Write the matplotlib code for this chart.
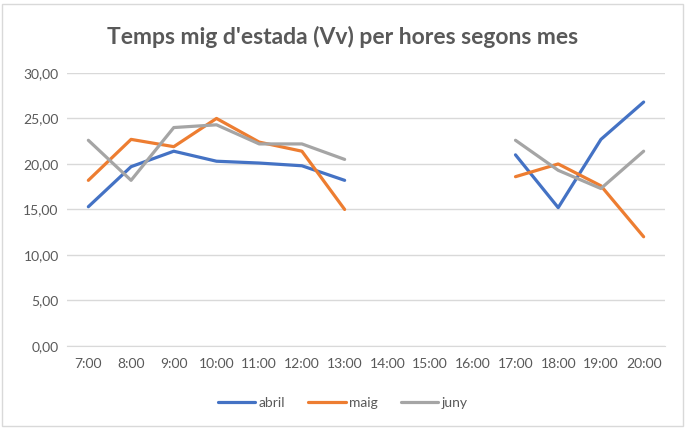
import matplotlib
matplotlib.use('Agg')
import matplotlib.pyplot as plt
import numpy as np
from matplotlib.patches import Rectangle

plt.rcParams['font.family'] = ['Lato', 'DejaVu Sans']

hores = ['7:00', '8:00', '9:00', '10:00', '11:00', '12:00', '13:00',
         '14:00', '15:00', '16:00', '17:00', '18:00', '19:00', '20:00']
nan = np.nan
abril = [15.3, 19.7, 21.4, 20.3, 20.1, 19.8, 18.2, nan, nan, nan, 21.0, 15.2, 22.7, 26.8]
maig = [18.2, 22.7, 21.9, 25.0, 22.4, 21.4, 15.0, nan, nan, nan, 18.6, 20.0, 17.6, 12.0]
juny = [22.6, 18.2, 24.0, 24.3, 22.2, 22.2, 20.5, nan, nan, nan, 22.6, 19.3, 17.3, 21.4]

fig = plt.figure(figsize=(6.85, 4.28), dpi=100)
ax = fig.add_axes([0.0978, 0.1916, 0.873, 0.638])

x = np.arange(len(hores))
ax.plot(x, abril, c='#4472C4', lw=2.3, label='abril', solid_capstyle='round')
ax.plot(x, maig, c='#ED7D31', lw=2.3, label='maig', solid_capstyle='round')
ax.plot(x, juny, c='#A5A5A5', lw=2.3, label='juny', solid_capstyle='round')

ax.set_xlim(-0.5, len(hores) - 0.5)
ax.set_ylim(0, 30)
ax.set_yticks(np.arange(0, 31, 5))
ax.yaxis.set_major_formatter(matplotlib.ticker.FuncFormatter(lambda v, p: ('%.2f' % v).replace('.', ',')))
ax.set_xticks(x)
ax.set_xticklabels(hores)
ax.tick_params(length=0, labelsize=10, labelcolor='#595959')
ax.tick_params(axis='x', pad=9)
ax.tick_params(axis='y', pad=6)
ax.grid(axis='y', color='#D9D9D9', lw=1)
ax.set_axisbelow(True)
for s in ['top', 'left', 'right']:
    ax.spines[s].set_visible(False)
ax.spines['bottom'].set_color('#D9D9D9')

fig.text(0.5, 0.913, "Temps mig d'estada (Vv) per hores segons mes", ha='center', va='center',
         fontsize=16.5, color='#595959', fontweight='bold')

fig.legend(loc='center', bbox_to_anchor=(0.5, 0.058), ncol=3, frameon=False,
           fontsize=10, labelcolor='#595959', handlelength=2.7, handletextpad=0.2, columnspacing=1.7)

fig.patches.append(Rectangle((0.003, 0.005), 0.994, 0.985, transform=fig.transFigure,
                             fill=False, ec='#D9D9D9', lw=1))

plt.savefig('out.png', dpi=100)
